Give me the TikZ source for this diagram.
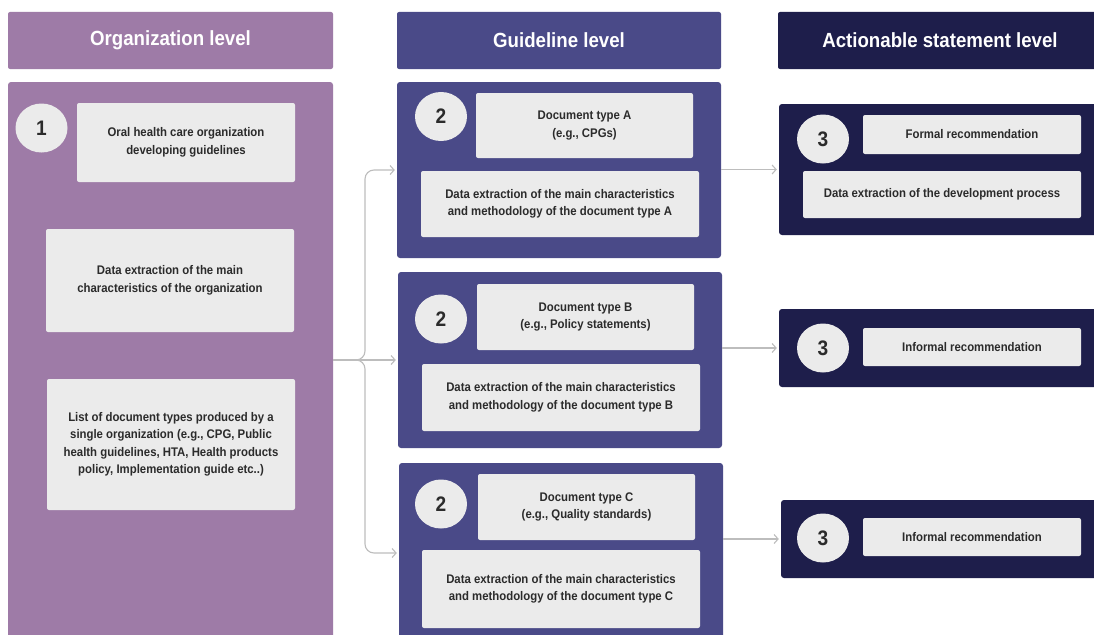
\documentclass[tikz,border=0pt]{standalone}
\usepackage{fontspec}
\setmainfont[FakeStretch=0.91]{Liberation Sans}
\usetikzlibrary{arrows.meta,shapes.geometric}
\definecolor{orgc}{HTML}{9E7BA7}
\definecolor{gdlc}{HTML}{4A4A88}
\definecolor{actc}{HTML}{1E1E4B}
\definecolor{boxc}{HTML}{EBEBEB}
\definecolor{linec}{HTML}{BDBDBD}
\definecolor{txtc}{HTML}{2B2B2B}
\begin{document}
\begin{tikzpicture}[x=1pt,y=-1pt,
  header/.style={rounded corners=2pt, text=white, inner sep=0pt, font=\bfseries\fontsize{20.5}{22}\selectfont},
  panel/.style={rounded corners=3pt, inner sep=0pt},
  card/.style={fill=boxc, rounded corners=2pt, align=center, text=txtc, inner sep=0pt, font=\bfseries\fontsize{12.5}{17.5}\selectfont},
  num/.style={ellipse, fill=boxc, text=txtc, inner sep=0pt, minimum width=52pt, minimum height=49pt, font=\bfseries\fontsize{21}{21}\selectfont},
  conn/.style={draw=linec, line width=1.1pt, rounded corners=9pt, -{Straight Barb[length=4pt,width=9pt]}, shorten >=2pt}
]
\useasboundingbox (0,0) rectangle (1094,634);
\clip (0,0) rectangle (1094,634);
\fill[white] (0,0) rectangle (1094,634);

% headers
\node[header, fill=orgc, minimum width=325pt, minimum height=57pt] (hOrg) at (170.5,40.5) {Organization level};
\node[header, fill=gdlc, minimum width=324pt, minimum height=57pt] (hGdl) at (559,40.5) {Guideline level};
\node[header, fill=actc, minimum width=324pt, minimum height=57pt] (hAct) at (940,40.5) {Actionable statement level};

% organization panel
\node[panel, fill=orgc, minimum width=325pt, minimum height=556pt] (orgP) at (170.5,360) {};
\node[num] (n1) at (41.5,128) {1};
\node[card, minimum width=218pt, minimum height=79pt] (o1) at (186,142.5) {Oral health care organization\\developing guidelines};
\node[card, minimum width=248pt, minimum height=103pt] (o2) at (170,280.5) {Data extraction of the main\\characteristics of the organization};
\node[card, minimum width=248pt, minimum height=131pt] (o3) at (171,444.5) {List of document types produced by a\\single organization (e.g., CPG, Public\\health guidelines, HTA, Health products\\policy, Implementation guide etc..)};

% guideline panels
\node[panel, fill=gdlc, minimum width=324pt, minimum height=176pt] (gA) at (559,170) {};
\node[num] (n2a) at (441,116.5) {2};
\node[card, minimum width=217pt, minimum height=65pt] (gA1) at (584.5,125.5) {Document type A\\(e.g., CPGs)};
\node[card, minimum width=278pt, minimum height=66pt] (gA2) at (560,204) {Data extraction of the main characteristics\\and methodology of the document type A};

\node[panel, fill=gdlc, minimum width=324pt, minimum height=176pt] (gB) at (560,360) {};
\node[num] (n2b) at (441,319) {2};
\node[card, minimum width=217pt, minimum height=66pt] (gB1) at (585.5,317) {Document type B\\(e.g., Policy statements)};
\node[card, minimum width=278pt, minimum height=67pt] (gB2) at (561,397.5) {Data extraction of the main characteristics\\and methodology of the document type B};

\node[panel, fill=gdlc, minimum width=324pt, minimum height=180pt] (gC) at (561,553) {};
\node[num] (n2c) at (441,504) {2};
\node[card, minimum width=217pt, minimum height=66pt] (gC1) at (586.5,507) {Document type C\\(e.g., Quality standards)};
\node[card, minimum width=278pt, minimum height=78pt] (gC2) at (561,589) {Data extraction of the main characteristics\\and methodology of the document type C};

% actionable panels
\node[panel, fill=actc, minimum width=330pt, minimum height=131pt] (aP1) at (944,169.5) {};
\node[num] (n3a) at (823,139) {3};
\node[card, minimum width=218pt, minimum height=39pt] (a1a) at (972,134.5) {Formal recommendation};
\node[card, minimum width=278pt, minimum height=47pt] (a1b) at (942,194.5) {Data extraction of the development process};

\node[panel, fill=actc, minimum width=330pt, minimum height=78pt] (aP2) at (944,348) {};
\node[num] (n3b) at (823,348) {3};
\node[card, minimum width=218pt, minimum height=38pt] (a2) at (972,347) {Informal recommendation};

\node[panel, fill=actc, minimum width=328pt, minimum height=78pt] (aP3) at (945,539) {};
\node[num] (n3c) at (823,538) {3};
\node[card, minimum width=218pt, minimum height=38pt] (a3) at (972,537) {Informal recommendation};

% connectors
\coordinate (fk) at (365,360);
\draw[conn] (orgP.east |- fk) -- (gB.west |- fk);
\draw[conn] (orgP.east |- fk) -- (fk) -- (fk |- gA.west) -- (gA.west);
\draw[conn] (orgP.east |- fk) -- (fk) -- (fk |- gC.west) -- (gC.west);
\draw[conn] (gA.east |- aP1.west) -- (aP1.west);
\draw[conn] (gB.east |- aP2.west) -- (aP2.west);
\draw[conn] (gC.east |- aP3.west) -- (aP3.west);
\end{tikzpicture}
\end{document}
